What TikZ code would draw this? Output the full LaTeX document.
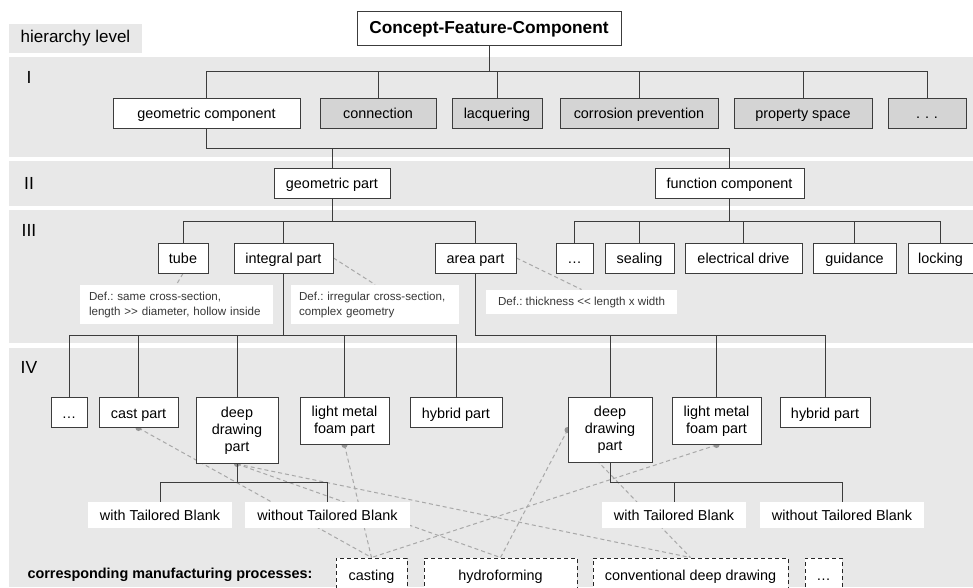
\documentclass[tikz,border=0pt]{standalone}
\usepackage{fontspec}
\setmainfont{Liberation Sans}
\usetikzlibrary{calc}
\frenchspacing
\pgfdeclarelayer{bands}
\pgfdeclarelayer{links}
\pgfsetlayers{bands,links,main}
\definecolor{bandgray}{HTML}{E8E8E8}
\definecolor{boxgray}{HTML}{D4D4D4}
\definecolor{linegray}{HTML}{3C3C3C}
\definecolor{dashgray}{HTML}{A8A8A8}
\definecolor{dotgray}{HTML}{959595}
\definecolor{defgray}{HTML}{383838}
\tikzstyle{every node}=[font=\fontsize{14.4}{17}\selectfont]
\tikzstyle{every path}=[line width=1pt]
\tikzstyle{oneline}=[text height=11.5pt,text depth=0.5pt]
\tikzstyle{partbox}=[draw=linegray,fill=white,inner sep=0pt,minimum height=30pt,oneline]
\tikzstyle{tallbox}=[draw=linegray,fill=white,inner sep=0pt,align=center,anchor=north]
\tikzstyle{featbox}=[partbox,fill=boxgray]
\tikzstyle{variant}=[fill=white,inner sep=0pt,minimum height=26pt,oneline]
\tikzstyle{defbox}=[fill=white,inner ysep=0pt,align=left,text=defgray,font=\fontsize{11.6}{15}\selectfont]
\tikzstyle{procbox}=[draw=black!85,dash pattern=on 4pt off 3pt,fill=white,inner sep=0pt,minimum height=34pt,oneline]
\tikzstyle{branch}=[draw=linegray]
\tikzstyle{mlink}=[draw=dashgray,dash pattern=on 4pt off 3pt]
\tikzstyle{lvlnum}=[inner sep=0pt,font=\fontsize{17.5}{20}\selectfont]

\begin{document}
\begin{tikzpicture}[x=1pt,y=-1pt]
  \useasboundingbox (0,0) rectangle (973,587);
  % grey bands of the hierarchy levels
  \begin{pgfonlayer}{bands}
    \fill[bandgray] (9,57) rectangle (973,157);
    \fill[bandgray] (9,161) rectangle (973,206);
    \fill[bandgray] (9,210) rectangle (973,343);
    \fill[bandgray] (9,348) rectangle (973,587);
  \end{pgfonlayer}
  \node[fill=bandgray,minimum width=133pt,minimum height=29pt,inner sep=0pt,
    font=\fontsize{17}{20}\selectfont] (hlevel) at (75.5,38.5) {hierarchy level};
  \node[lvlnum] (lvlI) at (29,77.5) {I};
  \node[lvlnum] (lvlII) at (29,183.5) {II};
  \node[lvlnum] (lvlIII) at (29,230.5) {III};
  \node[lvlnum] (lvlIV) at (29,367.5) {IV};

  % root
  \node[partbox,font=\bfseries\fontsize{17.3}{20}\selectfont,minimum width=264pt,
    minimum height=34pt,text height=12.5pt,text depth=1.5pt] (cfc) at (489,28)
    {Concept-Feature-Component};

  % level I
  \node[partbox,minimum width=187pt] (geocomp) at (206.5,113) {geometric component};
  \node[featbox,minimum width=116pt] (connection) at (378,113) {connection};
  \node[featbox,minimum width=90pt] (lacquering) at (497,113) {lacquering};
  \node[featbox,minimum width=158pt] (corrosion) at (639,113) {corrosion prevention};
  \node[featbox,minimum width=138pt] (propspace) at (803,113) {property space};
  \node[featbox,minimum width=78pt] (moreI) at (927,113) {.\,\,.\,\,.};

  % level II
  \node[partbox,minimum width=116pt] (geopart) at (332,183) {geometric part};
  \node[partbox,minimum width=149pt] (funccomp) at (729.5,183) {function component};

  % level III
  \node[partbox,minimum width=50pt] (tube) at (183,258) {tube};
  \node[partbox,minimum width=99pt] (integral) at (283.5,258) {integral part};
  \node[partbox,minimum width=81pt] (area) at (475.5,258) {area part};
  \node[partbox,minimum width=37pt] (moreIII) at (574.5,258) {\dots};
  \node[partbox,minimum width=69pt] (sealing) at (639.5,258) {sealing};
  \node[partbox,minimum width=117pt] (edrive) at (743.5,258) {electrical drive};
  \node[partbox,minimum width=83pt] (guidance) at (854.5,258) {guidance};
  \node[partbox,minimum width=65pt] (locking) at (940.5,258) {locking};

  % definitions
  \node[defbox,text width=175pt,inner xsep=9pt,minimum height=39pt] (defTube)
    at (176.5,304.5) {Def.: same cross-section,\\length >{}> diameter, hollow inside};
  \node[defbox,text width=152pt,inner xsep=8pt,minimum height=39pt] (defInt)
    at (375,304.5) {Def.: irregular cross-section,\\complex geometry};
  \node[defbox,inner xsep=0pt,minimum width=191pt,minimum height=24pt] (defArea)
    at (581.5,302) {Def.: thickness <{}< length x width};

  % level IV
  \node[partbox,anchor=north,minimum width=36pt] (moreIV) at (69,397) {\dots};
  \node[partbox,anchor=north,minimum width=79pt] (cast) at (138.5,397) {cast part};
  \node[tallbox,minimum width=82pt,minimum height=66pt] (deepL)
    at (237,397) {deep\\drawing\\part};
  \node[tallbox,minimum width=89pt,minimum height=47pt] (lightL)
    at (344.5,397) {light metal\\foam part};
  \node[partbox,anchor=north,minimum width=92pt] (hybridL) at (456,397) {hybrid part};
  \node[tallbox,minimum width=84pt,minimum height=65pt] (deepR)
    at (610,397) {deep\\drawing\\part};
  \node[tallbox,minimum width=89pt,minimum height=47pt] (lightR)
    at (716.5,397) {light metal\\foam part};
  \node[partbox,anchor=north,minimum width=90pt] (hybridR) at (825,397) {hybrid part};

  % blank variants
  \node[variant,minimum width=144pt] (withL) at (160,515) {with Tailored Blank};
  \node[variant,minimum width=165pt] (withoutL) at (327.5,515) {without Tailored Blank};
  \node[variant,minimum width=144pt] (withR) at (674,515) {with Tailored Blank};
  \node[variant,minimum width=164pt] (withoutR) at (842,515) {without Tailored Blank};

  % manufacturing processes
  \node[anchor=west,inner sep=0pt,font=\bfseries\fontsize{14.4}{17}\selectfont]
    (proclabel) at (27,575) {corresponding manufacturing processes:};
  \node[procbox,minimum width=71pt] (casting) at (371.5,575) {casting};
  \node[procbox,minimum width=153pt] (hydro) at (500.5,575) {hydroforming};
  \node[procbox,minimum width=195pt] (conv) at (690.5,575) {conventional deep drawing};
  \node[procbox,minimum width=37pt] (moreP) at (823.5,575) {\dots};

  % heights of the branch bars
  \coordinate (yI) at (0,71);
  \coordinate (yII) at (0,148);
  \coordinate (yIII) at (0,221);
  \coordinate (yIV) at (0,335);
  \coordinate (yT) at (0,482);

  % tree
  \draw[branch] (cfc.south) -- (cfc.south |- yI);
  \draw[branch] (geocomp.north |- yI) -- (moreI.north |- yI);
  \foreach \n in {geocomp,connection,lacquering,corrosion,propspace,moreI}
    \draw[branch] (\n.north) -- (\n.north |- yI);
  \draw[branch] (geocomp.south) |- (funccomp.north |- yII) -- (funccomp.north);
  \draw[branch] (geopart.north) -- (geopart.north |- yII);
  \draw[branch] (geopart.south) -- (geopart.south |- yIII);
  \draw[branch] (tube.north |- yIII) -- (area.north |- yIII);
  \foreach \n in {tube,integral,area}
    \draw[branch] (\n.north) -- (\n.north |- yIII);
  \draw[branch] (funccomp.south) -- (funccomp.south |- yIII);
  \draw[branch] (moreIII.north |- yIII) -- (locking.north |- yIII);
  \foreach \n in {moreIII,sealing,edrive,guidance,locking}
    \draw[branch] (\n.north) -- (\n.north |- yIII);
  \draw[branch] (integral.south) -- (integral.south |- yIV);
  \draw[branch] (moreIV.north |- yIV) -- (hybridL.north |- yIV);
  \foreach \n in {moreIV,cast,deepL,lightL,hybridL}
    \draw[branch] (\n.north) -- (\n.north |- yIV);
  \draw[branch] (area.south) |- (hybridR.north |- yIV) -- (hybridR.north);
  \foreach \n in {deepR,lightR}
    \draw[branch] (\n.north) -- (\n.north |- yIV);
  \draw[branch] (deepL.south) -- (deepL.south |- yT);
  \draw[branch] (withL.north |- yT) -- (withoutL.north |- yT);
  \foreach \n in {withL,withoutL}
    \draw[branch] (\n.north) -- (\n.north |- yT);
  \draw[branch] (deepR.south) |- (withoutR.north |- yT) -- (withoutR.north);
  \draw[branch] (withR.north) -- (withR.north |- yT);

  % dashed links, behind the boxes
  \begin{pgfonlayer}{links}
    \draw[mlink] (tube.south) -- (defTube.north);
    \draw[mlink] (integral.east) -- (defInt.north);
    \draw[mlink] (area.east) -- (defArea.north);
    \foreach \a/\b in {cast.south/casting,lightL.south/casting,lightR.south/casting,
      deepL.south/hydro,deepL.south/conv,deepR.west/hydro,deepR.west/conv}
      \draw[mlink] (\a) -- (\b.north);
    \foreach \a in {cast.south,deepL.south,lightL.south,deepR.west,lightR.south}
      \fill[dotgray] (\a) circle (3pt);
  \end{pgfonlayer}
\end{tikzpicture}
\end{document}
